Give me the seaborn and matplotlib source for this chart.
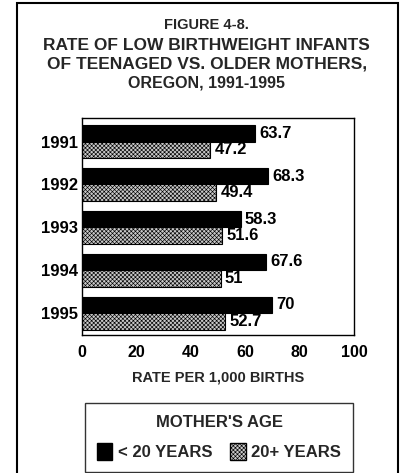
import matplotlib
matplotlib.use("Agg")
import matplotlib.pyplot as plt
import matplotlib.patches as mpatches
import seaborn as sns
import pandas as pd

years = ["1991", "1992", "1993", "1994", "1995"]
under20 = [63.7, 68.3, 58.3, 67.6, 70.0]
over20 = [47.2, 49.4, 51.6, 51.0, 52.7]
under20_labels = ["63.7", "68.3", "58.3", "67.6", "70"]
over20_labels = ["47.2", "49.4", "51.6", "51", "52.7"]
groups = ["< 20 YEARS", "20+ YEARS"]
xticks = [0, 20, 40, 60, 80, 100]

sns.set_theme(style="white")
plt.rcParams['font.family'] = ['Liberation Sans', 'DejaVu Sans']
plt.rcParams['hatch.linewidth'] = 0.45
plt.rcParams['hatch.color'] = '#707070'

HATCH = "xxxxxxxx"
GRAY = "#c8c8c8"

df = pd.DataFrame({
    "year": years * 2,
    "rate": under20 + over20,
    "age": [groups[0]] * 5 + [groups[1]] * 5,
})

W, H = 403, 473
fig = plt.figure(figsize=(W / 100, H / 100), dpi=100)
ax = fig.add_axes([82 / W, 1 - 335 / H, 272 / W, 217 / H])

sns.barplot(data=df, y="year", x="rate", hue="age", order=years,
            hue_order=groups, palette=["black", GRAY], orient="h",
            width=0.77, saturation=1, edgecolor="black", linewidth=0.8,
            legend=False, ax=ax)

for c_idx, cont in enumerate(ax.containers):
    labs = under20_labels if c_idx == 0 else over20_labels
    if c_idx == 1:
        for p in cont:
            p.set_hatch(HATCH)
    ax.bar_label(cont, labels=labs, padding=3, fontsize=12,
                 fontweight="bold", color="black")

ax.set_xlim(0, 100)
ax.set_ylim(4.51, -0.55)
ax.set_xticks(xticks)
ax.set_xticklabels([str(t) for t in xticks], fontsize=11.5, fontweight="bold")
ax.tick_params(axis="both", length=0, colors="black")
ax.tick_params(axis="x", pad=7)
ax.tick_params(axis="y", pad=3)
for lab in ax.get_yticklabels():
    lab.set_fontsize(12)
    lab.set_fontweight("bold")
ax.set_ylabel("")
ax.set_xlabel("RATE PER 1,000 BIRTHS", fontsize=10.5, fontweight="bold", labelpad=8)
for s in ax.spines.values():
    s.set_visible(True)
    s.set_color("black")
    s.set_linewidth(1)

fig.text(0.513, 1 - 25 / H, "FIGURE 4-8.", ha="center", va="center", fontsize=10.5, fontweight="bold")
fig.text(0.513, 1 - 45 / H, "RATE OF LOW BIRTHWEIGHT INFANTS", ha="center", va="center", fontsize=12.5, fontweight="bold")
fig.text(0.513, 1 - 64 / H, "OF TEENAGED VS. OLDER MOTHERS,", ha="center", va="center", fontsize=12.5, fontweight="bold")
fig.text(0.513, 1 - 83 / H, "OREGON, 1991-1995", ha="center", va="center", fontsize=11.5, fontweight="bold")

handles = [mpatches.Patch(facecolor="black", edgecolor="black"),
           mpatches.Patch(facecolor=GRAY, edgecolor="black", hatch=HATCH)]
leg = fig.legend(handles, groups, title="MOTHER'S AGE", ncol=2,
                 loc="lower left", bbox_to_anchor=(85 / W, 1 - 472 / H, 268 / W, 69 / H),
                 mode="expand",
                 prop={"weight": "bold", "size": 12},
                 title_fontproperties={"weight": "bold", "size": 12},
                 frameon=True, fancybox=False, handlelength=0.95, handleheight=1.2,
                 handletextpad=0.35, columnspacing=0.5, borderpad=0.7,
                 labelspacing=0.8, borderaxespad=0)
leg.get_frame().set_edgecolor("black")
leg.get_frame().set_linewidth(1)

frame = mpatches.Rectangle((17 / W, -0.01), 381 / W, 1 - 3 / H + 0.01,
                           transform=fig.transFigure, fill=False,
                           edgecolor="black", linewidth=1.5)
fig.patches.append(frame)

fig.savefig("out.png", dpi=100)
